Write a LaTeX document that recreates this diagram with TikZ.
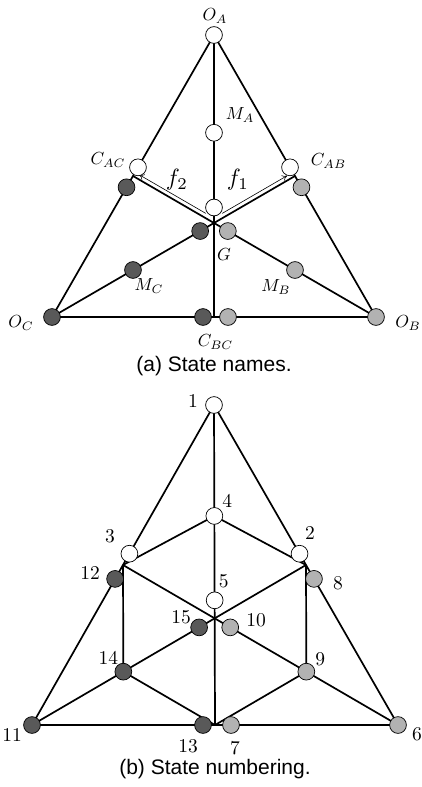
\documentclass[tikz,border=0pt]{standalone}
\usepackage{amsmath}
\usepackage{fontspec}
\newfontfamily\capfont{Liberation Sans}
\usepackage{tikz}
\usetikzlibrary{arrows.meta, positioning, calc}

\tikzset{
  lineseg/.style={line width=1.7pt},
  whitest/.style={circle, draw, line width=0.7pt, fill=white, minimum size=16.8pt, inner sep=0pt},
  darkst/.style={whitest, fill=black!65},
  lightst/.style={whitest, fill=black!30},
  farrow/.style={line width=0.6pt, -{To[length=5pt,width=6pt]}},
  lbl/.style={scale=1.75, inner sep=0pt},
  numlbl/.style={scale=1.95, inner sep=0pt},
  flbl/.style={scale=2.35, inner sep=0pt},
  caption/.style={font=\capfont, scale=2.1, inner sep=0pt},
}

\begin{document}
\begin{tikzpicture}[x=1pt, y=1pt]
    \useasboundingbox (0,0) rectangle (421,-787);

    % (a) State names
    \coordinate (vA) at (214,-35);
    \coordinate (vC) at (52,-317);
    \coordinate (vB) at (376,-317);
    \coordinate (vAC) at ($(vA)!0.5!(vC)$);
    \coordinate (vAB) at ($(vA)!0.5!(vB)$);
    \coordinate (vX) at (barycentric cs:vA=1,vB=1,vC=1);
    \coordinate (vQ) at ($(vC)!0.5!(vB)$);

    \draw[lineseg] (vA) -- (vAC) -- (vC) -- (vB) -- (vAB) -- cycle;
    \draw[lineseg] (vA) -- (vQ);
    \draw[lineseg] (vAC) -- (vX) -- (vAB);
    \draw[lineseg] (vC) -- (vX) -- (vB);

    % arrows f1, f2 beside the centre lines
    \coordinate (f2s) at ($(vX)!12pt!(vAC)+(60:4.2pt)$);
    \coordinate (f2e) at ($(vX)!89pt!(vAC)+(60:4.2pt)$);
    \coordinate (f1s) at ($(vX)!12pt!(vAB)+(120:4.2pt)$);
    \coordinate (f1e) at ($(vX)!87pt!(vAB)+(120:4.2pt)$);
    \draw[farrow] (f2s) -- (f2e);
    \draw[farrow] (f1s) -- (f1e);

    \node[whitest] (OA) at (vA) {};
    \node[whitest] (MA) at ($(vA)!0.52!(vX)$) {};
    \node[whitest] (CAC) at ($(vAC)!10pt!(vA)$) {};
    \node[darkst] (CACd) at ($(vAC)!13pt!(vC)$) {};
    \node[whitest] (CAB) at ($(vAB)!10pt!(vA)$) {};
    \node[lightst] (CABl) at ($(vAB)!13pt!(vB)$) {};
    \node[whitest] (G) at ($(vX)+(0,15.5)$) {};
    \node[darkst] (Gd) at ($(vX)!16pt!(vC)$) {};
    \node[lightst] (Gl) at ($(vX)!16pt!(vB)$) {};
    \node[darkst] (MC) at ($(vC)!0.5!(vX)$) {};
    \node[lightst] (MB) at ($(vB)!0.5!(vX)$) {};
    \node[darkst] (OC) at (vC) {};
    \node[lightst] (OB) at (vB) {};
    \node[darkst] (CBCd) at ($(vQ)+(-11,0)$) {};
    \node[lightst] (CBCl) at ($(vQ)+(14,0)$) {};

    \node[lbl] (tOA) at ($(OA)+(1,19)$) {$O_A$};
    \node[lbl] (tMA) at ($(MA)+(26,18)$) {$M_A$};
    \node[lbl] (tCAC) at ($(CAC)+(-30,7)$) {$C_{AC}$};
    \node[lbl] (tCAB) at ($(CAB)+(38.5,6)$) {$C_{AB}$};
    \node[lbl] (tG) at ($(vX)+(10,-32)$) {$G$};
    \node[lbl] (tMC) at ($(MC)+(16,-16)$) {$M_C$};
    \node[lbl] (tMB) at ($(MB)+(-19,-17)$) {$M_B$};
    \node[lbl] (tOC) at ($(OC)+(-31,-6)$) {$O_C$};
    \node[lbl] (tOB) at ($(OB)+(32,-6)$) {$O_B$};
    \node[lbl] (tCBC) at ($(vQ)+(1.5,-25)$) {$C_{BC}$};
    \node[flbl] (tf2) at ($(vX)+(-37,43)$) {$f_2$};
    \node[flbl] (tf1) at ($(vX)+(24,43)$) {$f_1$};
    \node[caption] (capa) at (214,-366) {(a) State names.};

    % (b) State numbering
    \coordinate (wA) at (214,-405);
    \coordinate (wC) at (32,-725);
    \coordinate (wB) at (398,-725);
    \coordinate (wAC) at ($(wA)!0.5!(wC)$);
    \coordinate (wAB) at ($(wA)!0.5!(wB)$);
    \coordinate (wX) at (barycentric cs:wA=1,wB=1,wC=1);
    \coordinate (wQ) at ($(wC)!0.5!(wB)$);
    \coordinate (w4) at ($(wA)!0.52!(wX)$);
    \coordinate (w14) at ($(wC)!0.5!(wX)$);
    \coordinate (w9) at ($(wB)!0.5!(wX)$);

    \draw[lineseg] (wA) -- (wAC) -- (wC) -- (wB) -- (wAB) -- cycle;
    \draw[lineseg] (wA) -- (wQ);
    \draw[lineseg] (wAC) -- (w4) -- (wAB);
    \draw[lineseg] (wAC) -- (w14) -- (wQ) -- (w9) -- (wAB);
    \draw[lineseg] (wAC) -- (w9);
    \draw[lineseg] (wAB) -- (w14);
    \draw[lineseg] (wC) -- (w14);
    \draw[lineseg] (wB) -- (w9);

    \node[whitest] (n1) at (wA) {};
    \node[whitest] (n2) at ($(wAB)!13pt!(wA)$) {};
    \node[whitest] (n3) at ($(wAC)!13pt!(wA)$) {};
    \node[whitest] (n4) at (w4) {};
    \node[whitest] (n5) at ($(wX)+(0,18)$) {};
    \node[lightst] (n6) at (wB) {};
    \node[lightst] (n7) at ($(wQ)+(16,0)$) {};
    \node[lightst] (n8) at ($(wAB)!16pt!(wB)$) {};
    \node[lightst] (n9) at (w9) {};
    \node[lightst] (n10) at ($(wX)!18pt!(wB)$) {};
    \node[darkst] (n11) at (wC) {};
    \node[darkst] (n12) at ($(wAC)!16pt!(wC)$) {};
    \node[darkst] (n13) at ($(wQ)+(-12,0)$) {};
    \node[darkst] (n14) at (w14) {};
    \node[darkst] (n15) at ($(wX)!18pt!(wC)$) {};

    \node[numlbl] (t1) at ($(n1)+(-21,4)$) {1};
    \node[numlbl] (t2) at ($(n2)+(10.5,20.7)$) {2};
    \node[numlbl] (t3) at ($(n3)+(-19.4,17.7)$) {3};
    \node[numlbl] (t4) at ($(n4)+(13,15)$) {4};
    \node[numlbl] (t5) at ($(n5)+(9,19)$) {5};
    \node[numlbl] (t6) at ($(n6)+(19,-9)$) {6};
    \node[numlbl] (t7) at ($(n7)+(4,-23)$) {7};
    \node[numlbl] (t8) at ($(n8)+(24,-4)$) {8};
    \node[numlbl] (t9) at ($(n9)+(14,12)$) {9};
    \node[numlbl] (t10) at ($(n10)+(26,7)$) {10};
    \node[numlbl] (t11) at ($(n11)+(-20,-10)$) {11};
    \node[numlbl] (t12) at ($(n12)+(-25,6)$) {12};
    \node[numlbl] (t13) at ($(n13)+(-15,-21)$) {13};
    \node[numlbl] (t14) at ($(n14)+(-15,14)$) {14};
    \node[numlbl] (t15) at ($(n15)+(-18,10)$) {15};
    \node[caption] (capb) at (215,-769) {(b) State numbering.};
\end{tikzpicture}
\end{document}
